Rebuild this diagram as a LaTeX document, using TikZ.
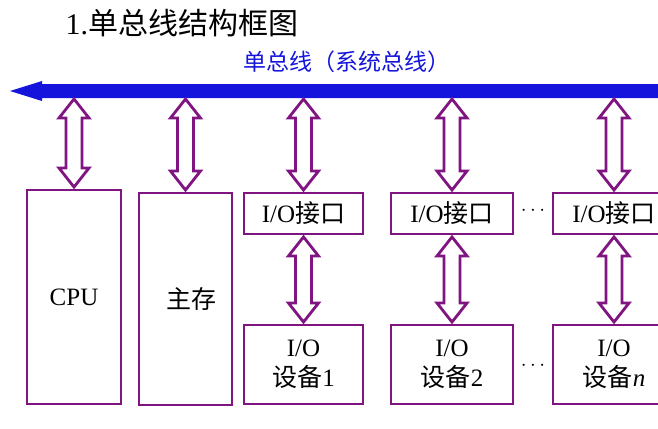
\documentclass[tikz,border=0pt]{standalone}
\usepackage{fontspec}
\setmainfont{Liberation Serif}
\newfontfamily\cjk{Noto Sans CJK SC}
\usetikzlibrary{calc}
\definecolor{pur}{RGB}{128,20,128}
\definecolor{busblue}{RGB}{20,20,220}
\begin{document}
\begin{tikzpicture}[x=1pt,y=-1pt,
  box/.style={draw=pur,line width=2.9pt,inner sep=0pt,align=center,font=\fontsize{25}{30}\selectfont},
  dbl/.style={draw=pur,line width=2.8pt,fill=white,line join=miter,
    to path={let \p1=(\tikztostart), \p2=(\tikztotarget) in
      (\x1,\y1) -- (\x1+15,\y1-19) -- (\x1+8,\y1-19) -- (\x1+8,\y2+19) -- (\x1+15,\y2+19)
      -- (\x1,\y2) -- (\x1-15,\y2+19) -- (\x1-8,\y2+19) -- (\x1-8,\y1-19) -- (\x1-15,\y1-19) -- cycle}}]
\useasboundingbox (0,0) rectangle (658,428);
% title
\node[anchor=west,font=\fontsize{30}{32}\selectfont] (title) at (62,23) {1.{\cjk 单总线结构框图}};
\node[text=busblue,font=\fontsize{23}{25}\selectfont\cjk] (buslabel) at (347,62) {单总线（系统总线）};
% bus
\fill[busblue] (10,91) -- (42,81) -- (42,84) -- (660,84) -- (660,98) -- (42,98) -- (42,101) -- cycle;
\coordinate (bus) at (0,99);
% boxes
\node[box,minimum width=94pt,minimum height=214pt] (cpu) at (74,297) {CPU};
\node[box,minimum width=93pt,minimum height=212pt] (mem) at (185.5,299) {\hspace*{12pt}{\cjk 主存}};
\node[box,minimum width=119pt,minimum height=41pt] (if1) at (303.5,213.5) {I/O{\cjk 接口}};
\node[box,minimum width=122pt,minimum height=41pt] (if2) at (452,213.5) {I/O{\cjk 接口}};
\node[box,minimum width=122pt,minimum height=41pt] (if3) at (614,213.5) {I/O{\cjk 接口}};
\node[box,minimum width=119pt,minimum height=79pt] (d1) at (303.5,364.5) {I/O\\{\cjk 设备}1};
\node[box,minimum width=122pt,minimum height=79pt] (d2) at (452,364.5) {I/O\\{\cjk 设备}2};
\node[box,minimum width=122pt,minimum height=79pt] (d3) at (614,364.5) {I/O\\{\cjk 设备}\textit{n}};
\node[font=\fontsize{20}{22}\selectfont] (dots1) at (533,211) {$\cdots$};
\node[font=\fontsize{20}{22}\selectfont] (dots2) at (533,366) {$\cdots$};
% bus connections
\draw[dbl] (cpu.north |- bus) to ($(cpu.north)+(0,-1.5)$);
\draw[dbl] (mem.north |- bus) to ($(mem.north)+(0,-1.5)$);
\draw[dbl] (if1.north |- bus) to ($(if1.north)+(0,-1.5)$);
\draw[dbl] (if2.north |- bus) to ($(if2.north)+(0,-1.5)$);
\draw[dbl] (if3.north |- bus) to ($(if3.north)+(0,-1.5)$);
% interface-device
\draw[dbl] ($(if1.south)+(0,1.5)$) to ($(d1.north)+(0,-1.5)$);
\draw[dbl] ($(if2.south)+(0,1.5)$) to ($(d2.north)+(0,-1.5)$);
\draw[dbl] ($(if3.south)+(0,1.5)$) to ($(d3.north)+(0,-1.5)$);
\end{tikzpicture}
\end{document}
